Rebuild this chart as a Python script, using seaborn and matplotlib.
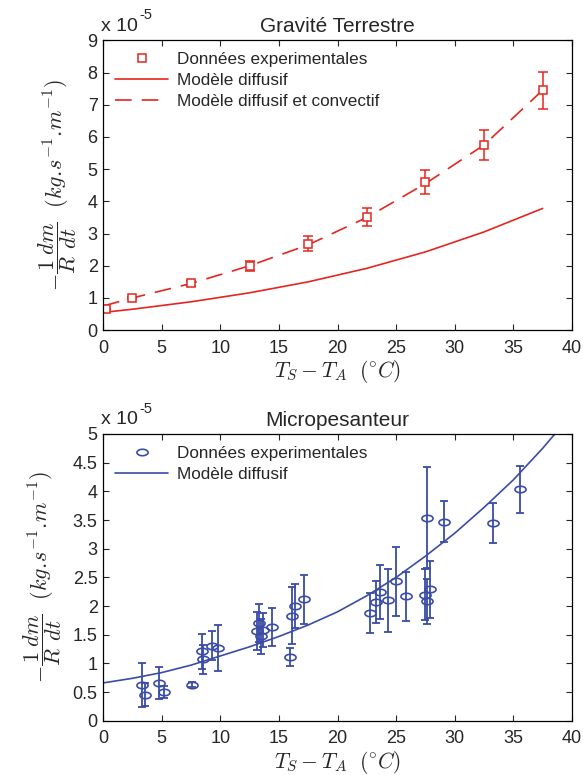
import numpy as np
import matplotlib
matplotlib.use("Agg")
import matplotlib.pyplot as plt
from matplotlib.lines import Line2D
from matplotlib.path import Path
from matplotlib.ticker import FormatStrFormatter
import seaborn as sns

# --- Gravité Terrestre (units of 1e-5) ---
terre_x = [0.2, 2.5, 7.5, 12.5, 17.5, 22.5, 27.5, 32.5, 37.5]
terre_y = [0.67, 1.0, 1.45, 2.0, 2.69, 3.5, 4.6, 5.75, 7.45]
terre_err = [0.03, 0.04, 0.08, 0.16, 0.23, 0.28, 0.37, 0.47, 0.58]

terre_model_x = [0, 2.5, 7.5, 12.5, 17.5, 22.5, 27.5, 32.5, 37.5]
terre_diffusif = [0.55, 0.65, 0.88, 1.16, 1.5, 1.92, 2.43, 3.05, 3.78]
terre_convectif = [0.75, 1.0, 1.45, 2.0, 2.65, 3.5, 4.55, 5.75, 7.45]

# --- Micropesanteur (units of 1e-5) ---
micro_x = [3.3, 3.6, 4.8, 5.2, 7.6, 8.4, 8.5, 9.3, 9.8, 13.1, 13.3, 13.45, 13.6,
           14.4, 15.9, 16.1, 16.4, 17.1, 22.8, 23.3, 23.6, 24.3, 25.0, 25.8,
           27.45, 27.65, 27.9, 27.6, 29.1, 33.3, 35.6]
micro_y = [0.62, 0.45, 0.66, 0.5, 0.63, 1.21, 1.07, 1.31, 1.27, 1.56, 1.71, 1.47, 1.58,
           1.64, 1.11, 1.83, 2.0, 2.12, 1.88, 2.07, 2.24, 2.1, 2.43, 2.17,
           2.2, 2.08, 2.29, 3.54, 3.47, 3.45, 4.04]
micro_err = [0.38, 0.2, 0.28, 0.1, 0.04, 0.3, 0.25, 0.25, 0.4, 0.33, 0.33, 0.3, 0.3,
             0.33, 0.16, 0.5, 0.38, 0.43, 0.35, 0.37, 0.47, 0.55, 0.6, 0.43,
             0.45, 0.4, 0.5, 0.88, 0.36, 0.35, 0.41]

micro_model_x = [0, 2.5, 5, 7.5, 10, 12.5, 15, 17.5, 20, 22.5, 25, 27.5, 30, 32.5, 35, 37.5, 40]
micro_diffusif = [0.66, 0.74, 0.84, 0.97, 1.13, 1.29, 1.47, 1.67, 1.9, 2.18, 2.5, 2.87,
                  3.27, 3.72, 4.2, 4.75, 5.35]

RED = "#e3261f"
BLUE = "#3a4ca6"

sns.set_style("ticks")
plt.rcParams["font.family"] = ["Liberation Sans", "DejaVu Sans"]
plt.rcParams["mathtext.fontset"] = "cm"

fig = plt.figure(figsize=(5.83, 7.75), dpi=100)
ax1 = fig.add_axes([0.177, 0.574, 0.804, 0.374])
ax2 = fig.add_axes([0.177, 0.070, 0.804, 0.370])

ylab = r"$-\dfrac{1}{R}\dfrac{dm}{dt}\ \ (kg.\!s^{-1}.\!m^{-1})$"
xlab = r"$T_S - T_A\ \ (^{\circ}C)$"

# ellipse marker for micropesanteur data
t = np.linspace(0, 2 * np.pi, 40)
ellipse = Path(np.column_stack([np.cos(t), 0.58 * np.sin(t)]), closed=True)

# top panel
sns.lineplot(x=terre_model_x, y=terre_diffusif, ax=ax1, color=RED, lw=1.2)
sns.lineplot(x=terre_model_x, y=terre_convectif, ax=ax1, color=RED, lw=1.2)
ax1.lines[-1].set_dashes((10, 6))
ax1.errorbar(terre_x, terre_y, yerr=terre_err, fmt="none", ecolor=RED,
             elinewidth=1.1, capsize=3.5, capthick=1.1)
ax1.plot(terre_x, terre_y, ls="none", marker="s", ms=5.5, mfc="white",
         mec=RED, mew=1.1)

# bottom panel
sns.lineplot(x=micro_model_x, y=micro_diffusif, ax=ax2, color=BLUE, lw=1.2)
ax2.errorbar(micro_x, micro_y, yerr=micro_err, fmt="none", ecolor=BLUE,
             elinewidth=1.3, capsize=2.6, capthick=1.3)
ax2.plot(micro_x, micro_y, ls="none", marker=ellipse, ms=8, mfc="none",
         mec=BLUE, mew=1.2)

for ax, ymax, step, title in [(ax1, 9, 1, "Gravité Terrestre"),
                              (ax2, 5, 0.5, "Micropesanteur")]:
    ax.set_xlim(0, 40)
    ax.set_ylim(0, ymax)
    ax.set_xticks(np.arange(0, 41, 5))
    ax.set_yticks(np.arange(0, ymax + 0.01, step))
    ax.yaxis.set_major_formatter(FormatStrFormatter("%g"))
    ax.tick_params(direction="in", top=True, right=True, length=4,
                   width=0.8, labelsize=13)
    ax.tick_params(axis="x", pad=7)
    ax.tick_params(axis="y", pad=4)
    for s in ax.spines.values():
        s.set_visible(True)
        s.set_linewidth(0.9)
        s.set_color("black")
    ax.set_title(title, fontsize=15, pad=6)
    ax.set_xlabel(xlab, fontsize=15.5, labelpad=1)
    ax.set_ylabel(ylab, fontsize=16, labelpad=6)
    ax.text(-0.005, 1.02, "x 10", transform=ax.transAxes, fontsize=14,
            ha="left", va="bottom")
    ax.annotate("-5", xy=(-0.005, 1.02), xycoords="axes fraction",
                xytext=(28, 9), textcoords="offset points", fontsize=10.5,
                ha="left", va="bottom")

h1 = [Line2D([], [], ls="none", marker="s", ms=5.5, mfc="white", mec=RED, mew=1.1),
      Line2D([], [], color=RED, lw=1.2),
      Line2D([], [], color=RED, lw=1.2, dashes=(10, 6))]
ax1.legend(h1, ["Données experimentales", "Modèle diffusif",
                "Modèle diffusif et convectif"],
           loc="upper left", frameon=False, fontsize=12.3, handlelength=3.1,
           borderaxespad=0.3, labelspacing=0.35, handletextpad=0.5)

h2 = [Line2D([], [], ls="none", marker=ellipse, ms=8, mfc="none", mec=BLUE, mew=1.2),
      Line2D([], [], color=BLUE, lw=1.2)]
ax2.legend(h2, ["Données experimentales", "Modèle diffusif"],
           loc="upper left", frameon=False, fontsize=12.3, handlelength=3.1,
           borderaxespad=0.3, labelspacing=0.35, handletextpad=0.5)

fig.savefig("out.png", dpi=100)
